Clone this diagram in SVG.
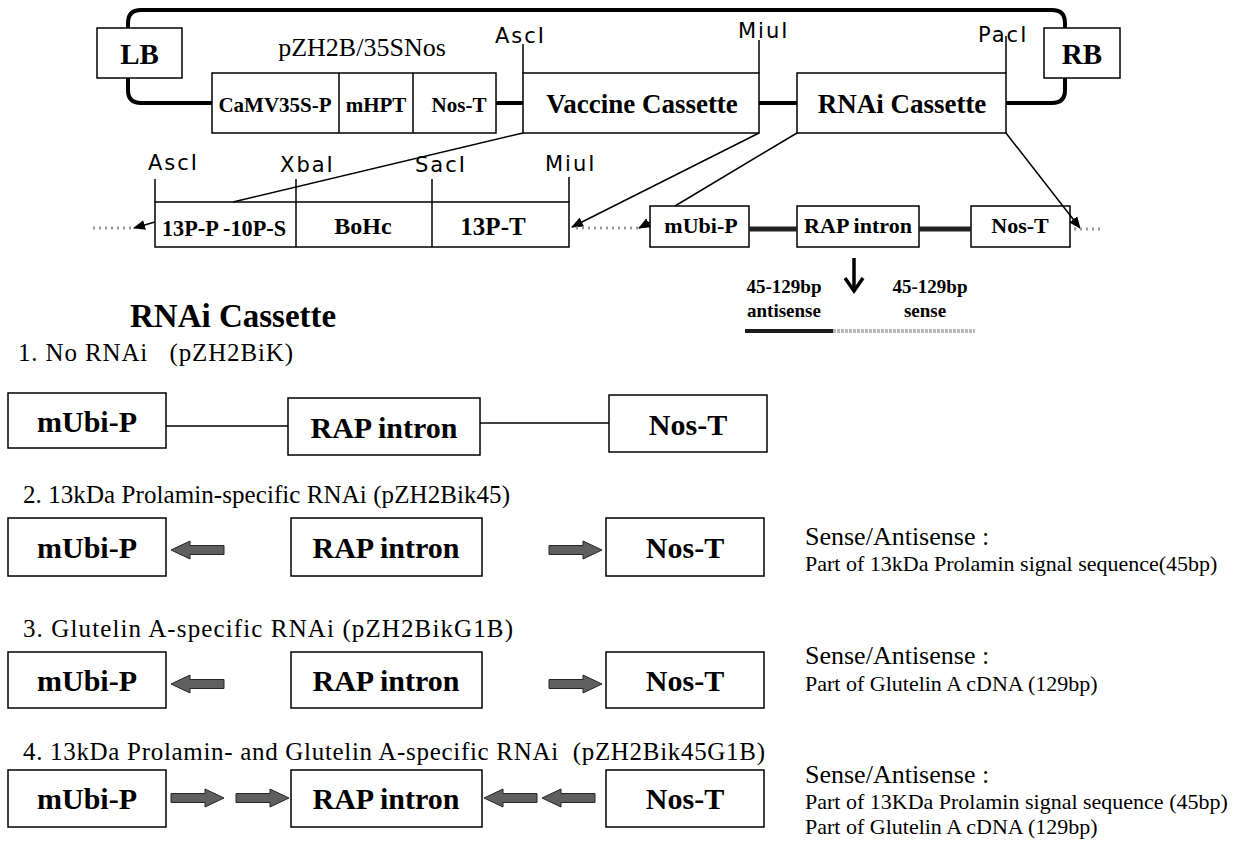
<svg xmlns="http://www.w3.org/2000/svg" width="1233" height="861" viewBox="0 0 1233 861">
<style>
.box{fill:#fff;stroke:#000;stroke-width:1.5}
.bb{fill:none;stroke:#000;stroke-width:4;stroke-linecap:butt}
.t{font-family:"Liberation Serif","Times New Roman",serif;fill:#000}
.b{font-weight:bold}
.m{text-anchor:middle}
.s{font-family:"DejaVu Sans","Liberation Sans",sans-serif;font-size:21px;letter-spacing:2px;fill:#000}
.thin{stroke:#000;stroke-width:1.5;fill:none}
.dot{stroke:#9a9a9a;stroke-width:3;stroke-dasharray:2 4;fill:none}
.heavy{stroke:#222;stroke-width:5;fill:none}
.fat{fill:#5f5f5f;stroke:#262626;stroke-width:1}
</style>
<defs>
<marker id="ah" markerWidth="12" markerHeight="10" refX="11" refY="5" orient="auto" markerUnits="userSpaceOnUse"><path d="M0,0 L12,5 L0,10 z" fill="#000"/></marker>
<path id="fl" d="M0,0 L19,-9 L19,-4.5 L53,-4.5 L53,4.5 L19,4.5 L19,9 Z"/>
</defs>
<rect width="1233" height="861" fill="#fff"/>

<g id="backbone">
<path class="bb" d="M212 103 H141 Q128 103 128 90 V23 Q128 10 141 10 H1052 Q1065 10 1065 23 V90 Q1065 103 1052 103 H1006"/>
<path class="bb" d="M496 103 H523 M759 103 H797"/>
<text class="t m" x="362" y="56" font-size="26">pZH2B/35SNos</text>
</g>

<g id="LB"><rect class="box" x="97" y="28" width="85" height="50"/><text class="t b m" x="139.5" y="64" font-size="29">LB</text></g>
<g id="RB"><rect class="box" x="1044" y="28" width="76" height="50"/><text class="t b m" x="1082" y="64" font-size="29">RB</text></g>

<g id="selection">
<rect class="box" x="212" y="73" width="284" height="60"/>
<line class="thin" x1="339" y1="73" x2="339" y2="133"/>
<line class="thin" x1="413" y1="73" x2="413" y2="133"/>
<text class="t b m" x="275" y="112" font-size="21">CaMV35S-P</text>
<text class="t b m" x="376" y="112" font-size="21">mHPT</text>
<text class="t b m" x="459" y="112" font-size="21">Nos-T</text>
</g>

<g id="vaccine-cassette">
<rect class="box" x="523" y="73" width="236" height="60"/>
<text class="t b m" x="642" y="113" font-size="27">Vaccine Cassette</text>
</g>

<g id="rnai-cassette-top">
<rect class="box" x="797" y="73" width="209" height="60"/>
<text class="t b m" x="902" y="113" font-size="27">RNAi Cassette</text>
</g>

<g id="sites-top">
<text class="s" x="495" y="43">AscI</text>
<line class="thin" x1="523" y1="44" x2="523" y2="73"/>
<text class="s" x="738" y="38">MiuI</text>
<line class="thin" x1="759" y1="40" x2="759" y2="73"/>
<text class="s" x="978" y="42">PacI</text>
<line class="thin" x1="1006" y1="36" x2="1006" y2="73"/>
</g>

<g id="vaccine-detail">
<rect class="box" x="155" y="202" width="414" height="45"/>
<line class="thin" x1="155" y1="179" x2="155" y2="202"/>
<line class="thin" x1="296" y1="179" x2="296" y2="247"/>
<line class="thin" x1="432" y1="179" x2="432" y2="247"/>
<line class="thin" x1="569" y1="177" x2="569" y2="202"/>
<text class="s" x="148" y="170">AscI</text>
<text class="s" x="280" y="172">XbaI</text>
<text class="s" x="415" y="172">SacI</text>
<text class="s" x="545" y="171">MiuI</text>
<text class="t b m" x="224" y="236" font-size="23" textLength="124" lengthAdjust="spacingAndGlyphs">13P-P -10P-S</text>
<text class="t b m" x="363" y="234" font-size="24">BoHc</text>
<text class="t b m" x="493" y="235" font-size="25">13P-T</text>
</g>

<g id="rnai-detail">
<rect class="box" x="650" y="206" width="99" height="41"/>
<text class="t b m" x="701" y="233" font-size="22">mUbi-P</text>
<rect class="box" x="797" y="206" width="122" height="41"/>
<text class="t b m" x="858" y="233" font-size="22">RAP intron</text>
<rect class="box" x="971" y="206" width="99" height="41"/>
<text class="t b m" x="1020" y="233" font-size="22">Nos-T</text>
</g>

<g id="hairpin">
<text class="t b m" x="784" y="293" font-size="19">45-129bp</text>
<text class="t b m" x="784" y="317" font-size="19">antisense</text>
<text class="t b m" x="930" y="293" font-size="19">45-129bp</text>
<text class="t b m" x="925" y="317" font-size="19">sense</text>
<line x1="745" y1="331" x2="833" y2="331" stroke="#1a1a1a" stroke-width="4"/>
<line x1="833" y1="331" x2="975" y2="331" stroke="#b8b8b8" stroke-width="4" stroke-dasharray="3 1"/>
</g>

<g id="title">
<text class="t b" x="130" y="327" font-size="33">RNAi Cassette</text>
</g>

<g id="construct1">
<text class="t" x="18" y="361" font-size="25" xml:space="preserve" textLength="275" lengthAdjust="spacing">1. No RNAi   (pZH2BiK)</text>
<rect class="box" x="8" y="393" width="158" height="55"/>
<text class="t b m" x="87" y="432" font-size="30">mUbi-P</text>
<rect class="box" x="288" y="398" width="192" height="57"/>
<text class="t b m" x="384" y="438" font-size="30">RAP intron</text>
<rect class="box" x="609" y="395" width="158" height="57"/>
<text class="t b m" x="688" y="435" font-size="30">Nos-T</text>
</g>

<g id="construct2">
<text class="t" x="23" y="503" font-size="25" textLength="487" lengthAdjust="spacing">2. 13kDa Prolamin-specific RNAi (pZH2Bik45)</text>
<rect class="box" x="8" y="518" width="158" height="58"/>
<text class="t b m" x="87" y="558" font-size="30">mUbi-P</text>
<rect class="box" x="291" y="518" width="191" height="58"/>
<text class="t b m" x="386" y="558" font-size="30">RAP intron</text>
<rect class="box" x="606" y="518" width="158" height="58"/>
<text class="t b m" x="685" y="558" font-size="30">Nos-T</text>
<text class="t" x="805" y="545" font-size="26">Sense/Antisense :</text>
<text class="t" x="805" y="571" font-size="22">Part of 13kDa Prolamin signal sequence(45bp)</text>
</g>

<g id="construct3">
<text class="t" x="23" y="637" font-size="25" textLength="490" lengthAdjust="spacing">3. Glutelin A-specific RNAi (pZH2BikG1B)</text>
<rect class="box" x="8" y="652" width="158" height="56"/>
<text class="t b m" x="87" y="691" font-size="30">mUbi-P</text>
<rect class="box" x="291" y="652" width="191" height="56"/>
<text class="t b m" x="386" y="691" font-size="30">RAP intron</text>
<rect class="box" x="606" y="652" width="158" height="56"/>
<text class="t b m" x="685" y="691" font-size="30">Nos-T</text>
<text class="t" x="805" y="664" font-size="26">Sense/Antisense :</text>
<text class="t" x="805" y="691" font-size="22">Part of Glutelin A cDNA (129bp)</text>
</g>

<g id="construct4">
<text class="t" x="23" y="760" font-size="25" xml:space="preserve" textLength="742" lengthAdjust="spacing">4. 13kDa Prolamin- and Glutelin A-specific RNAi  (pZH2Bik45G1B)</text>
<rect class="box" x="8" y="770" width="158" height="57"/>
<text class="t b m" x="87" y="809" font-size="30">mUbi-P</text>
<rect class="box" x="291" y="770" width="191" height="57"/>
<text class="t b m" x="386" y="809" font-size="30">RAP intron</text>
<rect class="box" x="606" y="770" width="158" height="57"/>
<text class="t b m" x="685" y="809" font-size="30">Nos-T</text>
<text class="t" x="805" y="783" font-size="26">Sense/Antisense :</text>
<text class="t" x="805" y="809" font-size="22">Part of 13KDa Prolamin signal sequence (45bp)</text>
<text class="t" x="805" y="834" font-size="22">Part of Glutelin A cDNA (129bp)</text>
</g>

<g id="connectors">
<line class="thin" x1="523" y1="133" x2="233" y2="202"/>
<line class="thin" x1="155" y1="222" x2="134" y2="228" marker-end="url(#ah)"/>
<line class="thin" x1="759" y1="133" x2="572" y2="227" marker-end="url(#ah)"/>
<line class="thin" x1="797" y1="133" x2="675" y2="206"/>
<line class="thin" x1="650" y1="222" x2="639" y2="228" marker-end="url(#ah)"/>
<line class="thin" x1="1006" y1="133" x2="1080" y2="228" marker-end="url(#ah)"/>
<line class="dot" x1="93" y1="228" x2="132" y2="228"/>
<line class="dot" x1="576" y1="228" x2="640" y2="228"/>
<line class="dot" x1="1074" y1="229" x2="1103" y2="229"/>
<line class="heavy" x1="749" y1="229" x2="797" y2="229"/>
<line class="heavy" x1="919" y1="229" x2="971" y2="229"/>
<line x1="854" y1="258" x2="854" y2="290" stroke="#000" stroke-width="3.5"/>
<polyline points="845,278 854,291 863,278" fill="none" stroke="#000" stroke-width="3.5"/>
<line class="thin" x1="166" y1="426" x2="288" y2="426" stroke-width="1.2"/>
<line class="thin" x1="480" y1="423" x2="609" y2="423" stroke-width="1.2"/>
<use href="#fl" class="fat" transform="translate(171,550)"/>
<use href="#fl" class="fat" transform="translate(602,550) scale(-1,1)"/>
<use href="#fl" class="fat" transform="translate(171,684)"/>
<use href="#fl" class="fat" transform="translate(602,684) scale(-1,1)"/>
<use href="#fl" class="fat" transform="translate(224,798) scale(-1,1)"/>
<use href="#fl" class="fat" transform="translate(289,798) scale(-1,1)"/>
<use href="#fl" class="fat" transform="translate(484,798)"/>
<use href="#fl" class="fat" transform="translate(542,798)"/>
</g>
</svg>
